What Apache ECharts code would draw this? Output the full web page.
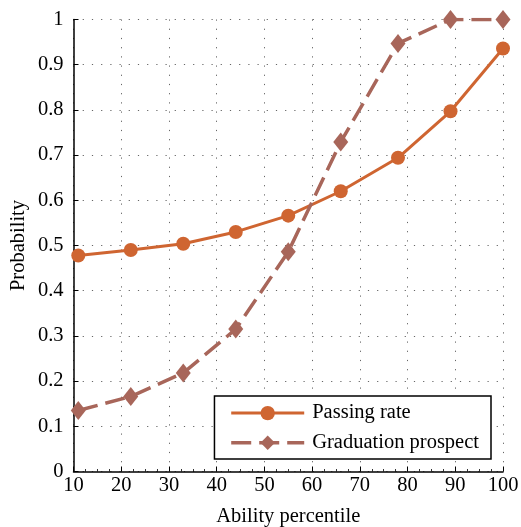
<!DOCTYPE html>
<html><head><meta charset="utf-8">
<script src="https://cdn.jsdelivr.net/npm/echarts@6/dist/echarts.min.js"></script>
<style>html,body{margin:0;padding:0;background:#fff}#c{width:521px;height:527px}</style>
</head><body><div id="c"></div>
<script>
var percentiles = [11, 22, 33, 44, 55, 66, 78, 89, 100];
var passingRate = [0.478, 0.490, 0.504, 0.530, 0.566, 0.620, 0.694, 0.797, 0.936];
var graduationProspect = [0.135, 0.166, 0.218, 0.315, 0.486, 0.729, 0.947, 1.0, 1.0];
var seriesNames = ['Passing rate', 'Graduation prospect'];

function pairs(xs, ys) { return xs.map(function (x, i) { return [x, ys[i]]; }); }

var font = 'Liberation Serif';
var fs = 20.5;
var c1 = '#CF6531', c2 = '#A8665A';
var chart = echarts.init(document.getElementById('c'), null, {renderer: 'canvas'});
chart.setOption({
  animation: false,
  backgroundColor: '#fff',
  grid: {left: 73.5, right: 18, top: 19.5, bottom: 55.5, containLabel: false, outerBoundsMode: 'none'},
  legend: {
    right: 30, bottom: 68,
    orient: 'vertical', align: 'left',
    itemWidth: 73, itemHeight: 18, itemGap: 8.7,
    padding: [6.7, 12, 5.7, 15],
    borderColor: '#000', borderWidth: 1.5,
    backgroundColor: '#fff',
    textStyle: {fontFamily: font, fontSize: fs, color: '#000', lineHeight: 18, padding: [0, 0, 0, 3]},
    data: [
      {name: seriesNames[0], lineStyle: {width: 3}},
      {name: seriesNames[1], lineStyle: {width: 3.5}}
    ]
  },
  xAxis: {
    type: 'value', min: 10, max: 100, interval: 10,
    name: 'Ability percentile', nameLocation: 'middle', nameGap: 35, nameMoveOverlap: false,
    nameTextStyle: {fontFamily: font, fontSize: fs, color: '#000'},
    axisLine: {show: true, lineStyle: {color: '#000', width: 1.5}},
    axisTick: {show: true, inside: true, length: 5, lineStyle: {color: '#000', width: 1}},
    minorTick: {show: true, splitNumber: 4, length: 2.5, lineStyle: {color: '#000', width: 0.8}},
    axisLabel: {fontFamily: font, fontSize: fs, color: '#000', margin: 4},
    splitLine: {show: true, lineStyle: {color: '#666', width: 1, type: [1.2, 8]}}
  },
  yAxis: {
    type: 'value', min: 0, max: 1, interval: 0.1,
    name: 'Probability', nameLocation: 'middle', nameGap: 44, nameRotate: 90, nameMoveOverlap: false,
    nameTextStyle: {fontFamily: font, fontSize: fs, color: '#000'},
    axisLine: {show: true, lineStyle: {color: '#000', width: 1.5}},
    axisTick: {show: true, inside: true, length: 5, lineStyle: {color: '#000', width: 1}},
    axisLabel: {fontFamily: font, fontSize: fs, color: '#000', margin: 10},
    splitLine: {show: true, lineStyle: {color: '#666', width: 1, type: [1.2, 8]}}
  },
  series: [
    {
      name: seriesNames[0], type: 'line', data: pairs(percentiles, passingRate),
      symbol: 'circle', symbolSize: 14,
      itemStyle: {color: c1},
      lineStyle: {color: c1, width: 3}
    },
    {
      name: seriesNames[1], type: 'line', data: pairs(percentiles, graduationProspect),
      symbol: 'diamond', symbolSize: [15, 19],
      itemStyle: {color: c2},
      lineStyle: {color: c2, width: 3.5, type: [20, 8]}
    }
  ]
});
</script></body></html>
